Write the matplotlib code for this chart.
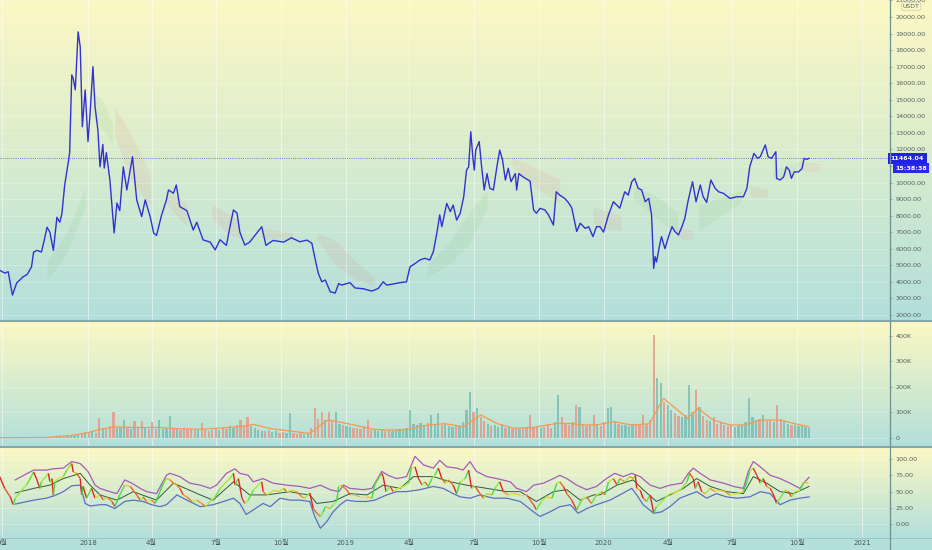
import numpy as np
import pandas as pd
import matplotlib
matplotlib.use('Agg')
import matplotlib.pyplot as plt
import matplotlib.dates as mdates
from matplotlib.collections import LineCollection
from matplotlib.colors import LinearSegmentedColormap
from matplotlib.lines import Line2D

plt.rcParams['font.family'] = ['DejaVu Sans', 'Noto Sans CJK KR']

# days counted from 2018-01-01
price_days = [-125, -118, -113, -107, -101, -92, -86, -80, -77, -72, -66, -62, -58, -54, -49, -44, -40, -37, -33,
              -28, -26, -23, -21, -18, -14, -11, -8, -4, 0, 3, 7, 10, 14, 17, 21, 23, 26, 31, 37, 41, 45, 50, 55,
              63, 69, 76, 81, 88, 93, 97, 104, 111, 114, 121, 125, 130, 140, 149, 154, 163, 173, 180, 187, 196,
              201, 206, 211, 215, 222, 229, 239, 246, 252, 262, 277, 288, 300, 310, 317, 321, 326, 331, 336, 343,
              350, 355, 359, 371, 378, 390, 402, 411, 418, 423, 432, 442, 451, 456, 463, 470, 477, 484, 489, 494,
              498, 501, 508, 513, 517, 522, 527, 532, 536, 539, 542, 545, 547, 549, 554, 557, 561, 565, 569, 574,
              579, 583, 587, 591, 595, 599, 605, 607, 610, 616, 626, 631, 635, 640, 647, 652, 659, 663, 668, 675,
              680, 685, 692, 697, 704, 709, 715, 720, 725, 730, 737, 744, 753, 760, 765, 770, 774, 779, 784, 789,
              794, 798, 801, 803, 805, 809, 812, 817, 822, 827, 831, 836, 841, 845, 850, 856, 861, 867, 871, 876,
              882, 888, 893, 900, 909, 919, 928, 933, 937, 943, 948, 952, 956, 959, 963, 968, 974, 975, 980, 985,
              989, 993, 996, 1000, 1006, 1011, 1014, 1018, 1021]
price_vals = [4700, 4530, 4610, 3200, 3930, 4300, 4450, 4900, 5800, 5900, 5800, 6500, 7300, 7000, 5900, 7900, 7600,
              8100, 9850, 11200, 11800, 16500, 16300, 15600, 19100, 18200, 13370, 15600, 12470, 14200, 17000, 14580,
              13170, 10950, 12300, 10870, 11800, 10150, 6950, 8760, 8300, 10950, 9550, 11560, 8950, 7940, 8950,
              7940, 6950, 6800, 8000, 8950, 9550, 9350, 9850, 8540, 8300, 7130, 7600, 6530, 6400, 5930, 6540, 6200,
              7330, 8340, 8150, 7000, 6220, 6400, 6950, 7330, 6200, 6500, 6400, 6660, 6420, 6520, 6330, 5500, 4530,
              4000, 4110, 3400, 3320, 3900, 3800, 3950, 3630, 3580, 3440, 3600, 4000, 3800, 3870, 3950, 4000, 4910,
              5100, 5320, 5420, 5320, 5820, 6950, 8040, 7330, 8740, 8240, 8640, 7730, 8140, 9140, 10750, 10950,
              13070, 11460, 10750, 11960, 12470, 11100, 9550, 10540, 9650, 9550, 10950, 11960, 11350, 10150, 10860,
              10050, 10540, 9550, 10540, 10340, 10080, 8340, 8140, 8440, 8340, 8040, 7430, 9440, 9240, 9040, 8800,
              8470, 7040, 7540, 7230, 7330, 6730, 7330, 7330, 7000, 8040, 8840, 8450, 9440, 9240, 10050, 10250,
              9650, 9550, 8840, 9040, 8040, 4810, 5520, 5200, 6120, 6730, 6000, 6730, 7330, 7040, 6830, 7330, 7830,
              8950, 10050, 8840, 9850, 9140, 8800, 10150, 9650, 9440, 9340, 9040, 9140, 9140, 9650, 10950, 11760,
              11460, 11560, 11960, 12270, 11560, 11460, 11860, 10250, 10150, 10340, 10950, 10740, 10250, 10640,
              10640, 10840, 11460, 11400, 11464.04]
last_price = 11464.04

# ichimoku cloud pieces: (kind, days, upper, lower)
cloud_parts = [
    ('g', [-58, -30, -4], [5300, 7000, 9700], [4100, 5700, 8500]),
    ('g', [5, 20, 35], [15500, 15000, 13500], [14000, 13200, 12300]),
    ('r', [38, 60, 88], [14500, 13000, 10500], [12800, 10200, 8600]),
    ('r', [110, 125, 140], [9500, 9200, 8700], [8800, 8000, 7400]),
    ('r', [175, 195, 215], [8700, 8200, 7700], [7900, 7000, 6600]),
    ('r', [244, 265, 290], [7300, 7100, 7000], [6700, 6600, 6500]),
    ('r', [325, 350, 380, 405], [6950, 6500, 5200, 4300], [6500, 5000, 4100, 3800]),
    ('g', [480, 510, 540, 565], [5000, 6300, 8200, 9500], [4300, 5000, 6300, 8500]),
    ('r', [600, 630, 668], [11500, 11000, 10200], [11000, 9800, 8800]),
    ('r', [715, 735, 755], [8500, 8300, 8000], [7500, 7200, 7100]),
    ('g', [772, 800, 835], [9700, 9300, 8200], [9000, 8000, 6900]),
    ('r', [835, 845, 857], [7300, 7200, 7100], [6700, 6500, 6600]),
    ('g', [865, 895, 925], [8600, 9100, 9500], [7100, 8000, 8800]),
    ('r', [937, 950, 962], [9800, 9700, 9600], [9200, 9100, 9100]),
    ('g', [970, 990, 1008], [10800, 11000, 11300], [10300, 10500, 10700]),
    ('r', [1008, 1022, 1036], [11300, 11200, 11100], [10700, 10650, 10700]),
]

# volume in K, one bar every 5 days from day -124
vol_vals = [1, 1, 1, 1, 1, 1, 1, 1, 1, 1,
            1, 1, 1, 1, 1, 2, 2, 3, 5, 8,
            9, 12, 10, 15, 22, 18, 25, 20, 76, 40,
            35, 45, 100, 40, 38, 70, 42, 36, 65, 40,
            65, 38, 35, 60, 36, 70, 34, 40, 85, 38,
            36, 32, 40, 30, 34, 29, 31, 56, 30, 28,
            32, 38, 30, 42, 35, 45, 40, 48, 70, 44,
            82, 45, 40, 30, 28, 25, 30, 22, 26, 20,
            24, 18, 95, 20, 16, 18, 15, 17, 40, 115,
            75, 100, 70, 100, 65, 100, 55, 48, 45, 42,
            40, 38, 35, 45, 70, 32, 30, 28, 32, 28,
            30, 27, 30, 35, 32, 38, 110, 55, 48, 56,
            50, 56, 89, 52, 95, 48, 55, 45, 42, 50,
            45, 60, 108, 180, 100, 115, 80, 65, 55, 45,
            48, 42, 50, 38, 45, 35, 40, 36, 38, 42,
            89, 40, 45, 38, 42, 48, 40, 60, 167, 80,
            55, 50, 60, 128, 120, 50, 45, 48, 89, 50,
            45, 60, 115, 120, 65, 55, 48, 50, 45, 55,
            48, 52, 89, 55, 70, 403, 233, 213, 140, 130,
            110, 95, 85, 80, 90, 206, 100, 187, 120, 85,
            70, 65, 80, 55, 60, 50, 45, 48, 42, 45,
            48, 60, 154, 80, 70, 75, 90, 65, 70, 60,
            128, 75, 60, 55, 50, 48, 45, 50, 42, 40]
vol_days = np.arange(-124, 1022, 5)
vol_ma_days = [-124, -60, -20, 0, 20, 40, 70, 100, 130, 160, 190, 220, 234, 260, 290, 314, 330, 340, 355, 376,
               404, 428, 456, 470, 484, 505, 532, 556, 579, 602, 630, 664, 680, 704, 720, 744, 770, 795, 815, 835,
               849, 864, 885, 909, 930, 951, 980, 999, 1021]
vol_ma_vals = [0, 1, 10, 20, 35, 42, 40, 40, 35, 33, 38, 45, 52, 35, 25, 17, 50, 70, 62, 50,
               33, 30, 33, 45, 50, 55, 43, 89, 56, 37, 40, 56, 56, 50, 50, 63, 50, 55, 154, 108,
               76, 115, 69, 50, 50, 69, 69, 56, 43]

rsi_days = [-125, -118, -110, -106, -103, -99, -92, -87, -77, -73, -68, -66, -56, -54, -51, -49, -47, -42, -35,
            -30, -23, -21, -16, -11, -9, -7, -2, 5, 10, 17, 22, 26, 34, 38, 45, 52, 60, 64, 69, 74, 78, 83, 90,
            95, 100, 107, 111, 116, 121, 126, 130, 135, 140, 147, 154, 161, 166, 173, 180, 187, 196, 201, 206,
            208, 213, 218, 222, 227, 234, 241, 246, 248, 253, 263, 270, 277, 281, 288, 295, 303, 307, 314, 319,
            324, 329, 333, 336, 343, 347, 352, 355, 359, 366, 371, 378, 385, 395, 402, 406, 416, 418, 422, 428,
            432, 439, 447, 454, 458, 463, 468, 473, 477, 482, 487, 491, 496, 501, 506, 510, 517, 522, 527, 534,
            539, 543, 548, 555, 560, 565, 572, 576, 583, 588, 595, 602, 612, 621, 631, 635, 642, 649, 657, 664,
            668, 673, 678, 685, 692, 699, 706, 713, 720, 727, 732, 737, 744, 749, 753, 760, 767, 772, 775, 777,
            782, 786, 791, 796, 801, 805, 810, 817, 824, 834, 841, 848, 852, 857, 860, 864, 869, 874, 881, 888,
            895, 902, 909, 919, 928, 933, 937, 942, 947, 952, 956, 961, 966, 970, 975, 980, 987, 992, 996, 1001,
            1008, 1014, 1020]
rsi_vals = [73, 55, 42, 30, 40, 45, 55, 60, 80, 70, 55, 65, 78, 65, 70, 43, 65, 70, 73,
            83, 93, 80, 78, 70, 45, 58, 40, 55, 40, 45, 37, 42, 35, 27, 45, 60, 58, 52, 45, 37, 42, 35, 37,
            32, 45, 63, 70, 68, 63, 60, 55, 45, 42, 35, 37, 32, 27, 35, 42, 55, 65, 70, 78,
            60, 70, 40, 32, 37, 52, 60, 65, 50, 45, 52, 50, 55, 50, 52, 50, 42, 40, 48, 24,
            17, 12, 19, 27, 24, 30, 35, 58, 60, 53, 45, 45, 42, 42, 40, 60, 78, 73, 50, 58,
            50, 55, 58, 63, 88, 88, 70, 60, 65, 58, 70, 75, 86, 70, 63, 68, 60, 47, 65, 70,
            83, 55, 58, 47, 40, 47, 45, 55, 65, 50, 45, 47, 45, 45, 30, 22, 35, 42, 40, 63,
            65, 58, 47, 37, 22, 37, 42, 32, 45, 50, 45, 65, 70, 60, 70, 65, 73, 70, 75, 55,
            52, 40, 35, 45, 17, 27, 32, 40, 47, 50, 55, 65, 78, 70, 55, 65, 50, 47, 55, 50,
            52, 50, 45, 47, 50, 65, 81, 86, 75, 63, 70, 58, 55, 47, 32, 40, 52, 50, 42, 50,
            52, 65, 63]
up_days = [-103, -77, -59, -49, -35, -23, -11, 0, 10, 17, 31, 41, 52, 62, 74, 83, 97, 111, 116, 130, 144, 159,
           173, 182, 196, 208, 215, 227, 234, 248, 262, 281, 300, 314, 329, 343, 355, 362, 371, 390, 402, 416,
           425, 437, 451, 463, 475, 489, 498, 508, 522, 531, 541, 550, 565, 579, 598, 607, 621, 631, 645, 659,
           668, 678, 692, 706, 720, 734, 746, 758, 770, 782, 796, 810, 824, 841, 850, 857, 867, 881, 900, 914,
           928, 935, 942, 952, 966, 980, 994, 1008, 1015, 1021]
up_vals = [68, 83, 83, 85, 86, 96, 93, 81, 60, 55, 50, 47, 68, 63, 55, 50, 47, 75, 78, 73, 63, 60,
           55, 60, 78, 85, 78, 75, 65, 70, 63, 60, 58, 55, 60, 53, 50, 60, 55, 53, 55, 81,
           75, 70, 73, 104, 91, 86, 98, 88, 86, 83, 96, 81, 73, 70, 65, 55, 50, 60, 63, 70,
           75, 70, 60, 53, 58, 70, 78, 73, 78, 73, 60, 55, 60, 63, 78, 86, 78, 68, 63, 58,
           55, 81, 96, 88, 75, 70, 63, 55, 65, 72]
lo_days = [-103, -77, -59, -47, -35, -23, -11, -4, 3, 17, 26, 38, 52, 64, 78, 90, 102, 111, 126, 140, 159, 177,
           192, 206, 215, 224, 234, 248, 258, 272, 286, 300, 314, 321, 329, 338, 347, 357, 366, 380, 395, 406,
           423, 437, 451, 470, 489, 503, 517, 527, 541, 555, 574, 593, 612, 631, 640, 654, 668, 683, 694, 706,
           720, 739, 753, 770, 777, 786, 801, 812, 824, 838, 862, 876, 890, 904, 919, 937, 952, 966, 980, 994,
           1008, 1021]
lo_vals = [31, 37, 40, 44, 50, 59, 60, 32, 28, 30, 30, 24, 35, 37, 35, 30, 27, 30, 45, 37, 27, 30,
           35, 40, 32, 15, 22, 32, 27, 40, 37, 37, 35, 12, -6, 4, 19, 30, 37, 35, 35, 37,
           45, 50, 50, 53, 58, 55, 47, 42, 40, 45, 40, 40, 35, 19, 12, 19, 27, 30, 17, 24,
           30, 37, 45, 55, 45, 30, 17, 19, 27, 40, 50, 40, 47, 42, 40, 42, 50, 47, 30, 37,
           40, 42]
mid_days = [-103, -77, -54, -35, -11, 3, 17, 41, 64, 97, 121, 159, 177, 206, 229, 253, 286, 300, 314, 324, 347,
            371, 395, 418, 442, 461, 489, 513, 536, 565, 593, 612, 635, 659, 678, 697, 716, 725, 749, 772, 786,
            805, 824, 843, 862, 881, 904, 928, 942, 961, 980, 999, 1021]
mid_vals = [48, 55, 60, 70, 78, 60, 45, 37, 50, 37, 63, 45, 37, 65, 45, 45, 50, 47, 45, 32, 35,
            47, 45, 60, 55, 73, 73, 65, 60, 55, 50, 50, 35, 50, 53, 37, 45, 45, 60, 68, 53,
            35, 45, 55, 70, 58, 50, 47, 73, 63, 50, 47, 58]

tick_dates = ['2017-09-01', '2018-01-01', '2018-04-01', '2018-07-01', '2018-10-01', '2019-01-01', '2019-04-01',
              '2019-07-01', '2019-10-01', '2020-01-01', '2020-04-01', '2020-07-01', '2020-10-01', '2021-01-01']
tick_labels = ['9월', '2018', '4월', '7월', '10월', '2019', '4월', '7월', '10월', '2020', '4월', '7월', '10월', '2021']

W, H = 932, 550
base = mdates.date2num(pd.Timestamp('2018-01-01'))


def to_x(d):
    return base + np.asarray(d, dtype=float)


fig = plt.figure(figsize=(W / 100, H / 100), dpi=100)

# gradient backgrounds for every pane row
bg_cmap = LinearSegmentedColormap.from_list('bg', ['#fcf8c3', '#d8ecce', '#b2dfdb'])
for y1, y2 in [(0, 321), (321, 447), (447, 537)]:
    b = fig.add_axes([0, 1 - y2 / H, 1, (y2 - y1) / H], zorder=0)
    b.imshow(np.linspace(0, 1, 256).reshape(-1, 1), aspect='auto', cmap=bg_cmap, extent=[0, 1, 0, 1])
    b.axis('off')
b = fig.add_axes([0, 0, 1, 13 / H], zorder=0)
b.set_facecolor('#b4e0db')
b.set_xticks([])
b.set_yticks([])
for s in b.spines.values():
    s.set_visible(False)

aw = 889 / W
ax1 = fig.add_axes([0, 1 - 320 / H, aw, 320 / H], zorder=2)
ax2 = fig.add_axes([0, 1 - 446 / H, aw, 124 / H], zorder=2)
ax3 = fig.add_axes([0, 1 - 537 / H, aw, 89 / H], zorder=2)

tick_x = mdates.date2num(pd.to_datetime(tick_dates))
xlim = (to_x(-124.6), to_x(1134.2))
for ax in (ax1, ax2, ax3):
    ax.set_facecolor('none')
    for s in ax.spines.values():
        s.set_visible(False)
    ax.set_xlim(*xlim)
    ax.set_xticks(tick_x)
    ax.yaxis.tick_right()
    ax.tick_params(axis='y', direction='out', length=2.2, width=0.5, color='#7d8f8d',
                   labelsize=4.6, labelcolor='#56625f', pad=2.5)
    ax.tick_params(axis='x', length=0, labelbottom=False)
    ax.grid(True, axis='x', color='white', alpha=0.5, lw=0.7)
    ax.grid(True, axis='y', color='white', alpha=0.28, lw=0.6)
    ax.set_axisbelow(True)

# price pane
for kind, d, hi, lo in cloud_parts:
    col = '#4caf50' if kind == 'g' else '#ef5350'
    ax1.fill_between(to_x(d), lo, hi, color=col, alpha=0.08, lw=0)
ax1.plot(to_x(price_days), price_vals, color='#3232d2', lw=1.0)
ax1.axhline(last_price, color='#3b3bd8', lw=0.6, ls=(0, (1, 1.6)), alpha=0.85)
ax1.set_ylim(1693, 21027)
pt = np.arange(2000, 21001, 1000)
ax1.set_yticks(pt)
ax1.set_yticklabels([f'{v:.2f}' for v in pt])
ax1.text(1.002, last_price, f'{last_price:.2f}', transform=ax1.get_yaxis_transform(), ha='left', va='center',
         fontsize=4.6, color='white', fontweight='bold', zorder=6, clip_on=False,
         bbox=dict(boxstyle='square,pad=0.45', fc='#2222e6', ec='none'))
ax1.annotate('15:38:38', xy=(1.0, last_price), xycoords=ax1.get_yaxis_transform(), xytext=(4.5, -7),
             textcoords='offset points', ha='left', va='center', fontsize=4.6, color='white',
             fontweight='bold', annotation_clip=False,
             bbox=dict(boxstyle='square,pad=0.35', fc='#2a2ae6', ec='none'))
fig.text(911 / W, 1 - 6.5 / H, 'USDT', fontsize=4.4, color='#56625f', ha='center', va='center', zorder=7,
         bbox=dict(boxstyle='round,pad=0.2', fc='#fbf7c6', ec='#bfc4b0', lw=0.4))

# volume pane
pv = np.interp(vol_days, price_days, price_vals)
pprev = np.interp(vol_days - 5, price_days, price_vals)
vcols = np.where(pv >= pprev, '#72b8ad', '#e8907f')
ax2.bar(to_x(vol_days), vol_vals, width=3.2, color=vcols, alpha=0.75, lw=0)
ax2.plot(to_x(vol_ma_days), vol_ma_vals, color='#f39a52', lw=0.9)
ax2.set_ylim(-32.5, 453.7)
ax2.set_yticks([0, 100, 200, 300, 400])
ax2.set_yticklabels(['0', '100K', '200K', '300K', '400K'])

# rsi pane
ax3.plot(to_x(up_days), up_vals, color='#a45cb8', lw=0.9)
ax3.plot(to_x(lo_days), lo_vals, color='#5b70c0', lw=0.9)
ax3.plot(to_x(mid_days), mid_vals, color='#2f5b3a', lw=0.7)
rsi_cmap = LinearSegmentedColormap.from_list(
    'rsi', [(0, '#e0241f'), (0.3, '#f07a22'), (0.5, '#ece03a'), (0.7, '#a8ec3a'), (1, '#3fdc3a')])
pts = np.column_stack([to_x(rsi_days), rsi_vals])
segs = np.stack([pts[:-1], pts[1:]], axis=1)
slope = np.diff(rsi_vals) / np.diff(rsi_days)
lc = LineCollection(segs, colors=rsi_cmap((np.clip(slope / 2.5, -1, 1) + 1) / 2), linewidths=1.0)
ax3.add_collection(lc)
ax3.set_ylim(-19.4, 116.8)
rt = [0, 25, 50, 75, 100]
ax3.set_yticks(rt)
ax3.set_yticklabels([f'{v:.2f}' for v in rt])
ax3.tick_params(axis='x', labelbottom=True, labelsize=5, labelcolor='#4a5755', pad=2.5)
ax3.set_xticklabels(tick_labels)

# pane separators and price scale border
for yy in (321, 447):
    fig.add_artist(Line2D([0, 1], [1 - yy / H] * 2, transform=fig.transFigure, color='#86a8a6', lw=1.5, zorder=10))
fig.add_artist(Line2D([0, 1], [1 - 537.5 / H] * 2, transform=fig.transFigure, color='#a3c3c0', lw=0.7, zorder=10))
fig.add_artist(Line2D([889.5 / W] * 2, [0, 1], transform=fig.transFigure, color='#6f9291', lw=0.9, zorder=10))

fig.savefig('out.png', dpi=100)
